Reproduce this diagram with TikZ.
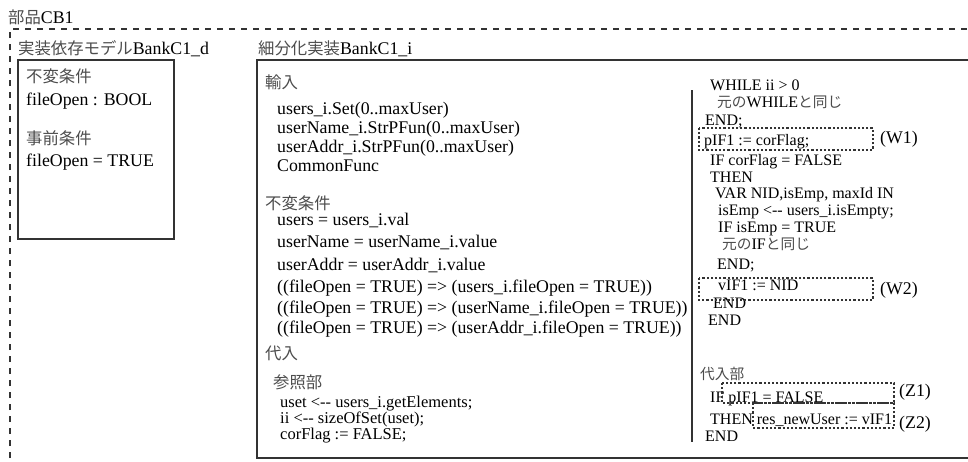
\documentclass[tikz,border=0pt]{standalone}
\usepackage{fontspec}
\setmainfont{Liberation Serif}
\newfontfamily\jpfont{Noto Sans CJK JP}[Scale=0.92]
\definecolor{jpgray}{gray}{0.3}
\definecolor{linegray}{gray}{0.2}
\newcommand\jp[1]{{\jpfont\color{jpgray}#1}}
\newcommand\fbig{\fontsize{17.8}{21}\selectfont}
\newcommand\fmed{\fontsize{16.5}{19}\selectfont}
\newcommand\fsml{\fontsize{16}{19}\selectfont}

\begin{document}
\begin{tikzpicture}[x=1pt,y=-1pt,
  lbl/.style={anchor=base west,inner sep=0pt,font=\fbig},
  lblm/.style={lbl,font=\fmed},
  lbls/.style={lbl,font=\fsml},
  frame/.style={draw=linegray,line width=1.3pt},
  outerdash/.style={draw=linegray,line width=1.3pt,dash pattern=on 6pt off 6pt},
  dotbox/.style={draw=linegray,line width=1.3pt,dash pattern=on 2.2pt off 2pt},
  divider/.style={draw=linegray,line width=1.2pt}]
\useasboundingbox (0,0) rectangle (968,461);

% component frame (dashed, open to the right and bottom)
\draw[outerdash] (10,470) -- (10,29) -- (990,29);
\node[lbl] (cb) at (8,23) {\jp{部品}CB1};

% implementation-dependent model
\node[lbl] (dtitle) at (18,54) {\jp{実装依存モデル}BankC1\_d};
\draw[frame] (18,60) rectangle (174,239);
\node[lbl] (dinv)  at (26,82)  {\jp{不変条件}};
\node[lbl] (dinv1) at (26,105) {fileOpen : BOOL};
\node[lbl] (dpre)  at (26,144) {\jp{事前条件}};
\node[lbl] (dpre1) at (26,166) {fileOpen = TRUE};

% refined implementation
\node[lbl] (ititle) at (258,54) {\jp{細分化実装}BankC1\_i};
\draw[frame] (257,60) rectangle (990,458);

\node[lbl] (in)  at (265,88)  {\jp{輸入}};
\node[lbl] (in1) at (277,114) {users\_i.Set(0..maxUser)};
\node[lbl] (in2) at (277,133) {userName\_i.StrPFun(0..maxUser)};
\node[lbl] (in3) at (277,152) {userAddr\_i.StrPFun(0..maxUser)};
\node[lbl] (in4) at (277,171) {CommonFunc};

\node[lbl] (inv)  at (265,209) {\jp{不変条件}};
\node[lbl] (inv1) at (277,225) {users = users\_i.val};
\node[lbl] (inv2) at (277,247) {userName = userName\_i.value};
\node[lbl] (inv3) at (277,270) {userAddr = userAddr\_i.value};
\node[lbl] (inv4) at (277,292) {((fileOpen = TRUE) => (users\_i.fileOpen = TRUE))};
\node[lbl] (inv5) at (277,313) {((fileOpen = TRUE) => (userName\_i.fileOpen = TRUE))};
\node[lbl] (inv6) at (277,333) {((fileOpen = TRUE) => (userAddr\_i.fileOpen = TRUE))};

\node[lbl]  (sub)  at (265,359) {\jp{代入}};
\node[lbl]  (ref)  at (273,388) {\jp{参照部}};
\node[lblm] (ref1) at (280,407) {uset <-{}- users\_i.getElements;};
\node[lblm] (ref2) at (280,423) {ii <-{}- sizeOfSet(uset);};
\node[lblm] (ref3) at (280,439) {corFlag := FALSE;};

% column divider
\draw[divider] (692,90) -- (692,442);

% loop / branch part
\node[lbls] (w0)  at (710,90)  {WHILE ii > 0};
\node[lbls] (w1)  at (717,107) {\jp{元の}WHILE\jp{と同じ}};
\node[lbls] (w2)  at (705,125) {END;};
\node[lbls] (w3)  at (704,145) {pIF1 := corFlag;};
\node[lbls] (w4)  at (710,165) {IF corFlag = FALSE};
\node[lbls] (w5)  at (710,182) {THEN};
\node[lbls] (w6)  at (715,198) {VAR NID,isEmp, maxId IN};
\node[lbls] (w7)  at (718,215) {isEmp <-{}- users\_i.isEmpty;};
\node[lbls] (w8)  at (718,232) {IF isEmp = TRUE};
\node[lbls] (w9)  at (722,249) {\jp{元の}IF\jp{と同じ}};
\node[lbls] (w10) at (717,269) {END;};
\node[lbls] (w11) at (718,290) {vIF1 := NID};
\node[lbls] (w12) at (713,308) {END};
\node[lbls] (w13) at (708,325) {END};

\draw[dotbox] (699,128) rectangle (873,150);
\node[lbl] (W1) at (880,143) {(W1)};
\draw[dotbox] (699,278) rectangle (873,300);
\node[lbl] (W2) at (880,294) {(W2)};

% substitution part
\node[lbls] (z0) at (700,379) {\jp{代入部}};
\node[lbls] (z1) at (710,402) {IF pIF1 = FALSE};
\node[lbls] (z2) at (710,424) {THEN res\_newUser := vIF1};
\node[lbls] (z3) at (705,441) {END};

\draw[dotbox] (722,383) rectangle (894,403);
\node[lbl] (Z1) at (899,396) {(Z1)};
\draw[dotbox] (753,403) rectangle (894,428);
\node[lbl] (Z2) at (899,428) {(Z2)};
\end{tikzpicture}
\end{document}
